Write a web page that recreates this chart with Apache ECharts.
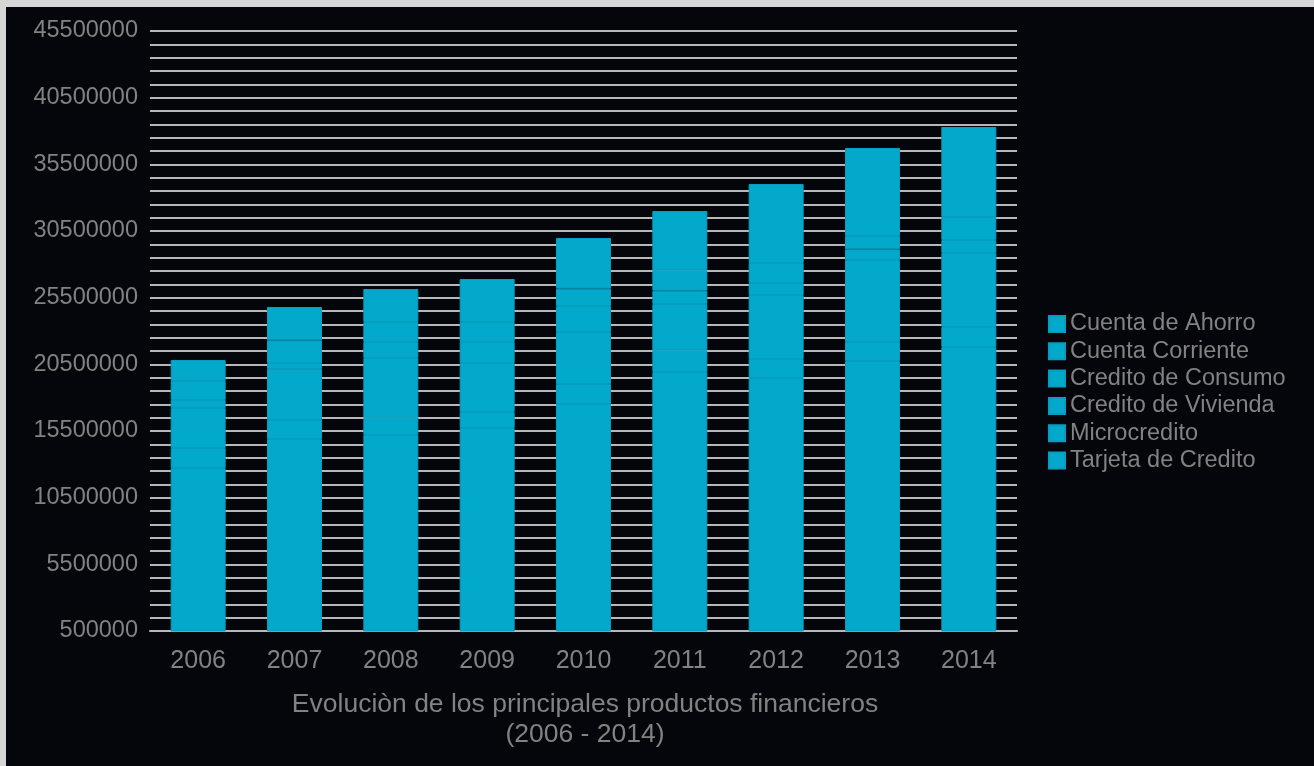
<!DOCTYPE html>
<html>
<head>
<meta charset="utf-8">
<script src="https://cdn.jsdelivr.net/npm/echarts@6/dist/echarts.min.js"></script>
<style>
  html, body { margin: 0; padding: 0; background: #d6d6d6; }
  #chart { position: absolute; left: 6px; top: 7px; width: 1308px; height: 759px; background: #05050c; }
</style>
</head>
<body>
<div id="chart"></div>
<script>
// datos
const years = ['2006', '2007', '2008', '2009', '2010', '2011', '2012', '2013', '2014']
const cuentaAhorro = [12725000, 14900000, 15200000, 15725000, 17525000, 19925000, 19475000, 20750000, 21800000]
const cuentaCorriente = [1500000, 1425000, 1300000, 1200000, 1500000, 1600000, 1425000, 1425000, 1500000]
const creditoConsumo = [3000000, 3825000, 4475000, 3675000, 3900000, 3500000, 4800000, 6150000, 5550000]
const creditoVivienda = [600000, 450000, 1200000, 1575000, 1950000, 1000000, 900000, 800000, 975000]
const microcredito = [1425000, 1700000, 1500000, 1500000, 1300000, 1500000, 1500000, 1000000, 1725000]
const tarjetaCredito = [1575000, 2500000, 2475000, 3225000, 3800000, 4475000, 5925000, 6600000, 6750000]

const seriesNames = ['Cuenta de Ahorro', 'Cuenta Corriente', 'Credito de Consumo', 'Credito de Vivienda', 'Microcredito', 'Tarjeta de Credito']
const seriesData = [cuentaAhorro, cuentaCorriente, creditoConsumo, creditoVivienda, microcredito, tarjetaCredito]

const barColor = '#03a9ca'
const textColor = '#828282'
const lineColor = '#b8b8b8'
const font = 'Liberation Sans, Arial, sans-serif'

const chart = echarts.init(document.getElementById('chart'))

chart.setOption({
  backgroundColor: '#05050c',
  animation: false,
  grid: { left: 144, right: 297, top: 24, bottom: 135 },
  legend: {
    orient: 'vertical',
    left: 1037,
    top: 300,
    itemWidth: 16,
    itemHeight: 16,
    itemGap: 3.3,
    icon: 'rect',
    data: seriesNames,
    textStyle: { color: textColor, fontSize: 23.5, lineHeight: 23, fontFamily: font }
  },
  graphic: [
    {
      type: 'text',
      x: 579,
      y: 683,
      style: {
        text: 'Evoluciòn de los principales productos financieros\n(2006 - 2014)',
        textAlign: 'center',
        fill: textColor,
        font: '26.5px ' + font,
        lineHeight: 30
      }
    }
  ],
  xAxis: {
    type: 'category',
    data: years,
    axisLine: { show: true, lineStyle: { color: lineColor, width: 2 } },
    axisTick: { show: false },
    axisLabel: { color: textColor, fontSize: 25, fontFamily: font, margin: 18 }
  },
  yAxis: {
    type: 'value',
    min: 500000,
    max: 45500000,
    interval: 5000000,
    axisLine: { show: false },
    axisTick: { show: false },
    axisLabel: { color: textColor, fontSize: 23.5, fontFamily: font, margin: 12, formatter: (v) => String(v) },
    splitLine: { lineStyle: { color: lineColor, width: 2 } },
    minorTick: { show: false, splitNumber: 5 },
    minorSplitLine: { show: true, lineStyle: { color: lineColor, width: 2 } }
  },
  series: seriesNames.map((name, i) => ({
    name: name,
    type: 'bar',
    stack: 'total',
    barWidth: 55,
    data: seriesData[i],
    itemStyle: { color: barColor, borderColor: '#059ec0', borderWidth: 1 }
  }))
})
</script>
</body>
</html>
